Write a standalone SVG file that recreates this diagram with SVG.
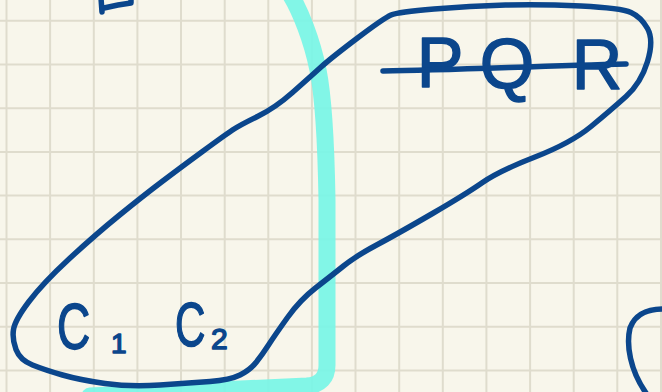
<svg xmlns="http://www.w3.org/2000/svg" width="662" height="392" viewBox="0 0 662 392">
<style>
.grid{stroke:#dfdccd;stroke-width:2;fill:none}
.ink{stroke:#0b468c;stroke-width:5.5;fill:none;stroke-linecap:round;stroke-linejoin:round}
.hl{stroke:#78f5e6;stroke-width:17;fill:none;stroke-linecap:round;stroke-linejoin:round;opacity:0.93}
.t{font-family:"Liberation Sans",Arial,sans-serif;fill:#0b468c;stroke:#0b468c;stroke-width:1.5;stroke-linejoin:round}
</style>
<rect width="662" height="392" fill="#f8f6eb"/>
<g id="grid">
<path class="grid" d="M6.5 0V392M50.1 0V392M93.8 0V392M137.4 0V392M181 0V392M224.7 0V392M268.3 0V392M311.9 0V392M355.5 0V392M399.2 0V392M442.8 0V392M486.4 0V392M530.1 0V392M573.7 0V392M617.3 0V392M661 0V392"/>
<path class="grid" d="M0 20.7H662M0 64.4H662M0 108.2H662M0 151.9H662M0 195.6H662M0 239.3H662M0 283.1H662M0 326.8H662M0 370.5H662"/>
</g>
<g id="highlight">
<path class="hl" d="M290 -6 C300 10, 312 40, 318 70 C324 100, 326 140, 327 200 L327 365 Q327 384 307 386 L90 396"/>
</g>
<g id="connectors">
<path id="loop" class="ink" d="M 391 15 Q 398 12 434 9 Q 470 6 505.5 5 Q 541 4 581 6 Q 621 8 631 12.5 Q 641 17 647.5 28.5 Q 654 40 647.5 61.5 Q 641 83 626 96.5 Q 611 110 591 126.5 Q 571 143 535 157 Q 499 171 482.5 182.5 Q 466 194 432.5 213.5 Q 399 233 377.5 244.5 Q 356 256 343.5 266 Q 331 276 315.5 288 Q 300 300 287.5 317.5 Q 275 335 268.5 345 Q 262 355 256 362.5 Q 250 370 240 375 Q 230 380 210 381.5 Q 190 383 160 385 Q 130 387 105 383.5 Q 80 380 62.5 375 Q 45 370 32.5 365 Q 20 360 16 349.5 Q 12 339 13.5 329.5 Q 15 320 29 301.5 Q 43 283 69 259 Q 95 235 119 215.5 Q 143 196 161.5 182 Q 180 168 202.5 151.5 Q 225 135 232.5 130 Q 240 125 257.5 116.5 Q 275 108 292.5 92.5 Q 310 77 320.5 67.5 Q 331 58 357.5 38 Q 384 18 391 15 Z"/>
<path id="corner-fragment" class="ink" d="M664 309 C650 309, 636 312, 630 328 C626 345, 630 370, 646 393"/>
<path id="top-fragment" class="ink" d="M101 -2 L102 12 M104 8 C112 6, 122 4, 131 3 L131 -2"/>
</g>
<g id="node-pqr">
<text class="t" x="440" y="87" font-size="70" text-anchor="middle">P</text>
<text class="t" x="507" y="88" font-size="70" text-anchor="middle">Q</text>
<text class="t" x="597" y="89" font-size="70" text-anchor="middle">R</text>
<path class="ink" d="M383 71 C450 70, 540 66, 626 64"/>
</g>
<g id="node-c1c2">
<text class="t" transform="translate(57 349) scale(0.72 1)" font-size="64">C</text>
<text class="t" x="111" y="353" font-size="28">1</text>
<text class="t" transform="translate(175 346) scale(0.68 1)" font-size="62">C</text>
<text class="t" x="211" y="349" font-size="30">2</text>
</g>
</svg>
